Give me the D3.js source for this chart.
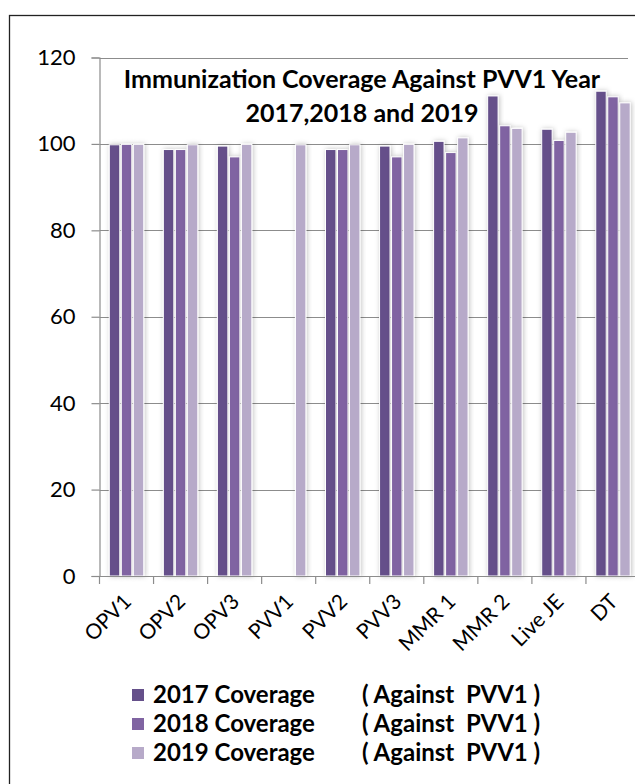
<!DOCTYPE html>
<html lang="en">
<head>
<meta charset="UTF-8">
<title>Immunization Coverage</title>
<style>
  body { margin: 0; background: #fff; }
  svg { display: block; font-family: Lato, "Open Sans", sans-serif; }
</style>
</head>
<body>
<div id="chart"></div>
<script src="https://cdnjs.cloudflare.com/ajax/libs/d3/7.8.5/d3.min.js"></script>
<script>
// data
var categories = ["OPV1", "OPV2", "OPV3", "PVV1", "PVV2", "PVV3", "MMR 1", "MMR 2", "Live JE", "DT"];
var seriesNames = ["2017 Coverage", "2018 Coverage", "2019 Coverage"];
var cov2017 = [99.8, 98.7, 99.5, null, 98.7, 99.5, 100.6, 111.1, 103.4, 112.2];
var cov2018 = [99.9, 98.7, 97.0, null, 98.7, 97.0, 98.0, 104.2, 100.8, 110.9];
var cov2019 = [99.9, 99.8, 99.9, 99.8, 99.8, 99.9, 101.4, 103.6, 102.7, 109.5];
var yTicks = [0, 20, 40, 60, 80, 100, 120];
var titleLines = ["Immunization Coverage Against PVV1 Year", "2017,2018 and 2019"];
var legendNote = "( Against  PVV1 )";

var width = 635, height = 784;
var colors = ["#65508a", "#8064a2", "#b7aac9"];
var allSeries = [cov2017, cov2018, cov2019];

var svg = d3.select("#chart").append("svg")
    .attr("width", width)
    .attr("height", height);

// shadow like the excel bars
var defs = svg.append("defs");
var f = defs.append("filter").attr("id", "shadow")
    .attr("x", "-50%").attr("y", "-10%").attr("width", "200%").attr("height", "120%");
f.append("feDropShadow")
    .attr("dx", 1).attr("dy", 0).attr("stdDeviation", 2.4)
    .attr("flood-color", "#000").attr("flood-opacity", 0.25);

// outer frame (runs off right and bottom)
svg.append("rect")
    .attr("x", 9.5).attr("y", 15.5)
    .attr("width", 700).attr("height", 800)
    .attr("fill", "none").attr("stroke", "#222").attr("stroke-width", 1.3);

// scales
var x0 = d3.scaleBand().domain(categories).range([99.5, 640]).padding(0);
var x1 = d3.scaleBand().domain(seriesNames).range([9.8, x0.bandwidth() - 9.8]).paddingInner(0.13);
var y = d3.scaleLinear().domain([0, 120]).range([576, 57.5]);

// gridlines
svg.append("g")
    .selectAll("line")
    .data(yTicks.slice(1))
    .enter().append("line")
    .attr("x1", 99.5).attr("x2", 628)
    .attr("y1", function (d) { return Math.round(y(d)) + 0.5 })
    .attr("y2", function (d) { return Math.round(y(d)) + 0.5 })
    .attr("stroke", "#8c8c8c").attr("stroke-width", 1.2);

// bars
var groups = svg.append("g")
    .selectAll("g")
    .data(categories)
    .enter().append("g")
    .attr("transform", function (d) { return "translate(" + x0(d) + ",0)" });

groups.selectAll("rect")
    .data(function (d, i) {
        return allSeries.map(function (s, k) { return { name: seriesNames[k], k: k, v: s[i] } })
            .filter(function (e) { return e.v != null })
    })
    .enter().append("rect")
    .attr("x", function (d) { return x1(d.name) })
    .attr("y", function (d) { return y(d.v) })
    .attr("width", x1.bandwidth())
    .attr("height", function (d) { return y(0) - y(d.v) })
    .attr("fill", function (d) { return colors[d.k] })
    .attr("stroke", "#fff").attr("stroke-width", 1)
    .attr("filter", "url(#shadow)");

// y axis
var yAxis = d3.axisLeft(y).tickValues(yTicks).tickSize(8).tickPadding(16);
var gy = svg.append("g").attr("transform", "translate(99.5,0)").call(yAxis);
gy.select(".domain").attr("stroke", "#8c8c8c").attr("stroke-width", 1.2);
gy.selectAll(".tick line").attr("stroke", "#8c8c8c").attr("stroke-width", 1.2);
gy.selectAll(".tick text")
    .style("font-family", "Lato, sans-serif")
    .style("font-size", "22px")
    .attr("fill", "#000");

// x axis
var xAxis = d3.axisBottom(x0).tickSize(0).tickPadding(0);
var gx = svg.append("g").attr("transform", "translate(0,576)").call(xAxis);
gx.select(".domain").attr("stroke", "#8c8c8c").attr("stroke-width", 1.2);
// boundary ticks between categories
gx.selectAll(".bound")
    .data(categories)
    .enter().append("line")
    .attr("class", "bound")
    .attr("x1", function (d) { return x0(d) }).attr("x2", function (d) { return x0(d) })
    .attr("y1", 0).attr("y2", 8)
    .attr("stroke", "#8c8c8c").attr("stroke-width", 1.2);
gx.selectAll(".tick text")
    .style("font-family", "Lato, sans-serif")
    .style("font-size", "21px")
    .attr("fill", "#000")
    .attr("text-anchor", "end")
    .attr("dy", "0")
    .attr("transform", "translate(6,27) rotate(-45)");

// title
svg.append("g")
    .selectAll("text")
    .data(titleLines)
    .enter().append("text")
    .attr("x", 362)
    .attr("y", function (d, i) { return 88 + i * 34 })
    .attr("text-anchor", "middle")
    .style("font-size", "25px")
    .style("font-weight", "bold")
    .text(function (d) { return d });

// legend
var leg = svg.append("g")
    .selectAll("g")
    .data(seriesNames)
    .enter().append("g")
    .attr("transform", function (d, i) { return "translate(132," + (695 + i * 29) + ")" });
leg.append("rect")
    .attr("x", 0).attr("y", -6)
    .attr("width", 12).attr("height", 12)
    .attr("fill", function (d, i) { return colors[i] });
leg.append("text")
    .attr("x", 21).attr("dy", "0.35em")
    .style("font-size", "24px").style("font-weight", "bold")
    .text(function (d) { return d });
leg.append("text")
    .attr("x", 230).attr("dy", "0.35em")
    .style("font-size", "24px").style("font-weight", "bold")
    .attr("xml:space", "preserve")
    .style("white-space", "pre")
    .text(legendNote);
</script>
</body>
</html>
